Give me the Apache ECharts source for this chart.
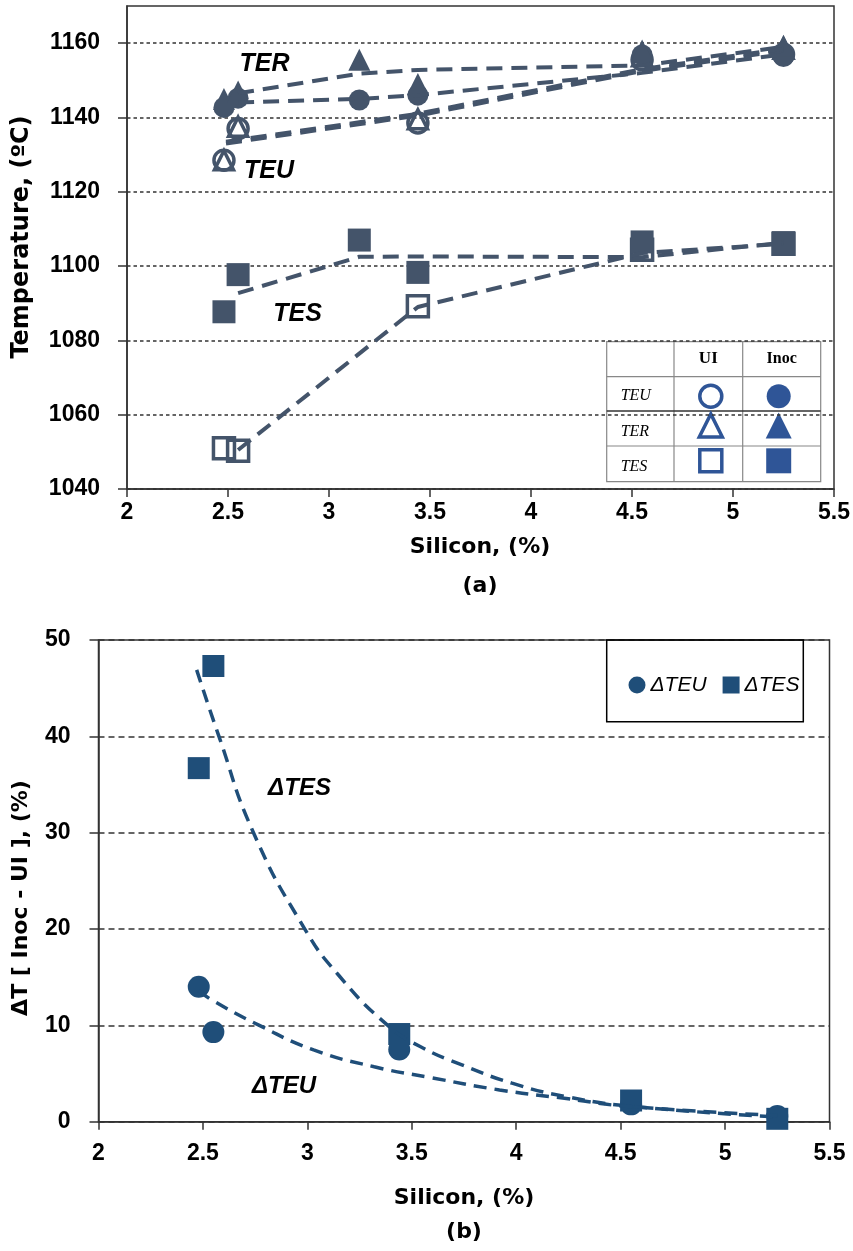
<!DOCTYPE html>
<html><head><meta charset="utf-8">
<script src="https://cdn.jsdelivr.net/npm/echarts@6/dist/echarts.min.js"></script>
<style>html,body{margin:0;padding:0;background:#fff}#c{width:853px;height:1251px}</style>
</head><body><div id="c"></div>
<script>
// ---------- (a) Temperatures ----------
const yTicksA = [1040, 1060, 1080, 1100, 1120, 1140, 1160];
const siUI = [2.48, 2.55, 3.44, 4.55, 5.25];
const siInoc = [2.48, 2.55, 3.15, 3.44, 4.55, 5.25];
const teuUI = [1128.5, 1137, 1138.5, 1155.5, 1157];
const terUI = [1128.5, 1137.5, 1139.5, 1156.5, 1158.5];
const tesUI = [1051, 1050.3, 1089.2, 1104.4, 1106];
const teuInoc = [1142.7, 1145.2, 1144.7, 1146, 1156.8, 1156.4];
const terInoc = [1145, 1147, 1155.5, 1149, 1158, 1159.3];
const tesInoc = [1087.7, 1097.7, 1107, 1098.3, 1106.5, 1106.3];
// dashed trend lines
const trendSiInoc = [2.55, 3.15, 3.44, 4.55, 5.25];
const teuInocTrend = [1144, 1145, 1146, 1152, 1157];
const terInocTrend = [1146.5, 1151.8, 1152.8, 1154, 1159];
const tesInocTrend = [1092.7, 1102.5, 1102.6, 1102.4, 1106.3];
const trendSiUI = [2.49, 3.44, 4.55, 5.25];
const teuUITrend = [1133, 1140.5, 1152.5, 1158];
const terUITrend = [1133.5, 1141, 1153, 1158.5];
const trendSiTesUI = [2.55, 3.44, 4.55, 5.25];
const tesUITrend = [1050.5, 1089, 1103.5, 1106];

// ---------- (b) Differences ----------
const yTicksB = [0, 10, 20, 30, 40, 50];
const siB = [2.48, 2.55, 3.44, 4.55, 5.25];
const dTEU = [14.0, 9.3, 7.5, 1.8, 0.6];
const dTES = [36.7, 47.3, 9.1, 2.2, 0.3];
const dTESCurveSi = [2.47, 2.575, 2.74, 2.985, 3.15, 3.385, 3.54, 3.74, 3.98, 4.24, 4.57, 5.25];
const dTESCurve   = [46.9, 40.1, 30.1, 20.1, 15.2, 10.0, 7.8, 5.9, 4.0, 2.6, 1.56, 0.5];
const dTEUCurveSi = [2.48, 2.545, 2.77, 3.03, 3.32, 3.585, 3.92, 4.24, 4.53, 5.25];
const dTEUCurve   = [13.6, 12.6, 10.0, 7.45, 5.7, 4.6, 3.3, 2.4, 1.6, 0.65];

const pairs = (xs, ys) => xs.map((x, i) => [x, ys[i]]);
const CA = '#44546A', CB = '#1F4E79', CT = '#2F5597';
const SANS = "'Liberation Sans', Arial, sans-serif";
const DJ = "'DejaVu Sans', sans-serif";

function openScatter(name, xs, ys, symbol, size) {
  return { name, type: 'scatter', xAxisIndex: 0, yAxisIndex: 0, data: pairs(xs, ys), symbol, symbolSize: size,
    itemStyle: { color: 'rgba(255,255,255,0)', borderColor: CA, borderWidth: 3.5, opacity: 1 }, z: 3 };
}
function fillScatter(name, xs, ys, symbol, size) {
  return { name, type: 'scatter', xAxisIndex: 0, yAxisIndex: 0, data: pairs(xs, ys), symbol, symbolSize: size,
    itemStyle: { color: CA, opacity: 1 }, z: 4 };
}
function trendA(xs, ys) {
  return { type: 'line', xAxisIndex: 0, yAxisIndex: 0, data: pairs(xs, ys), showSymbol: false, silent: true,
    lineStyle: { color: CA, width: 4, type: [16, 9] }, z: 5 };
}
function trendB(xs, ys) {
  return { type: 'line', xAxisIndex: 1, yAxisIndex: 1, data: pairs(xs, ys), showSymbol: false, silent: true, smooth: true,
    lineStyle: { color: CB, width: 3.5, type: [13, 8] }, z: 5 };
}

const axisCommon = {
  axisLine: { show: true, lineStyle: { color: '#333', width: 1.5 } },
  axisTick: { show: true, inside: false, length: 8, lineStyle: { color: '#333', width: 1.5 } },
};
const plain = v => String(v);

// legend table for (a)
const TX = 606.7, TY = 341.7, TW = 214, TH = 140;
const c2 = 710.8, c3 = 778.7;
const tableEls = [
  { type: 'rect', shape: { x: TX, y: TY, width: TW, height: TH }, style: { fill: '#fff', stroke: '#888', lineWidth: 1.2 } },
  { type: 'line', shape: { x1: 674, y1: TY, x2: 674, y2: TY + TH }, style: { stroke: '#888', lineWidth: 1.2 } },
  { type: 'line', shape: { x1: 742.7, y1: TY, x2: 742.7, y2: TY + TH }, style: { stroke: '#888', lineWidth: 1.2 } },
  { type: 'line', shape: { x1: TX, y1: 376.7, x2: TX + TW, y2: 376.7 }, style: { stroke: '#888', lineWidth: 1.2 } },
  { type: 'line', shape: { x1: TX, y1: 411, x2: TX + TW, y2: 411 }, style: { stroke: '#333', lineWidth: 1.5 } },
  { type: 'line', shape: { x1: TX, y1: 446, x2: TX + TW, y2: 446 }, style: { stroke: '#888', lineWidth: 1.2 } },
  { type: 'text', x: 708.3, y: 359, style: { text: 'UI', font: "bold 17px 'Liberation Serif', serif", fill: '#000', align: 'center', verticalAlign: 'middle' } },
  { type: 'text', x: 781.7, y: 359, style: { text: 'Inoc', font: "bold 16px 'Liberation Serif', serif", fill: '#000', align: 'center', verticalAlign: 'middle' } },
  { type: 'text', x: 620.7, y: 396, style: { text: 'TEU', font: "italic 16px 'Liberation Serif', serif", fill: '#000', align: 'left', verticalAlign: 'middle' } },
  { type: 'text', x: 620.7, y: 432, style: { text: 'TER', font: "italic 16px 'Liberation Serif', serif", fill: '#000', align: 'left', verticalAlign: 'middle' } },
  { type: 'text', x: 620.7, y: 466.5, style: { text: 'TES', font: "italic 16px 'Liberation Serif', serif", fill: '#000', align: 'left', verticalAlign: 'middle' } },
  { type: 'circle', shape: { cx: c2, cy: 396.2, r: 11 }, style: { fill: '#fff', stroke: CT, lineWidth: 3.5 } },
  { type: 'circle', shape: { cx: c3, cy: 396.2, r: 12 }, style: { fill: CT } },
  { type: 'polygon', shape: { points: [[c2, 414], [c2 - 11.5, 437], [c2 + 11.5, 437]] }, style: { fill: '#fff', stroke: CT, lineWidth: 3.5 } },
  { type: 'polygon', shape: { points: [[c3, 412.5], [c3 - 13, 438.5], [c3 + 13, 438.5]] }, style: { fill: CT } },
  { type: 'rect', shape: { x: c2 - 11, y: 449.8, width: 22, height: 22 }, style: { fill: '#fff', stroke: CT, lineWidth: 3.5 } },
  { type: 'rect', shape: { x: c3 - 12.5, y: 448.3, width: 25, height: 25 }, style: { fill: CT } },
];

const annot = (t, x, y, size) => ({ type: 'text', x, y, style: { text: t, font: `italic bold ${size}px ${SANS}`, fill: '#000', align: 'center', verticalAlign: 'middle' } });
const title = (t, x, y, size, rot) => ({ type: 'text', x, y, rotation: rot || 0, style: { text: t, font: `bold ${size}px ${DJ}`, fill: '#000', align: 'center', verticalAlign: 'middle' } });

const option = {
  animation: false,
  backgroundColor: '#fff',
  grid: [
    { left: 127, top: 6, width: 707, height: 483, show: true, borderColor: '#333', borderWidth: 1.5, backgroundColor: 'transparent' },
    { left: 98.5, top: 640, width: 731, height: 481.7, show: true, borderColor: '#333', borderWidth: 1.5, backgroundColor: 'transparent' },
  ],
  xAxis: [
    Object.assign({ type: 'value', gridIndex: 0, min: 2, max: 5.5, interval: 0.5, splitLine: { show: false },
      axisLabel: { margin: 12, color: '#000', fontFamily: SANS, fontWeight: 'bold', fontSize: 23, formatter: plain } }, axisCommon),
    Object.assign({ type: 'value', gridIndex: 1, min: 2, max: 5.5, interval: 0.5, splitLine: { show: false },
      axisLabel: { margin: 20, color: '#000', fontFamily: SANS, fontWeight: 'bold', fontSize: 23, formatter: plain } }, axisCommon),
  ],
  yAxis: [
    { type: 'value', gridIndex: 0, min: 1040, max: 1170, interval: 20,
      axisLine: axisCommon.axisLine,
      axisTick: Object.assign({}, axisCommon.axisTick, { length: 9, customValues: yTicksA }),
      axisLabel: { margin: 27, color: '#000', fontFamily: SANS, fontWeight: 'bold', fontSize: 23, customValues: yTicksA, formatter: plain },
      splitLine: { show: true, lineStyle: { color: '#333', width: 1.5, type: [3.5, 3] } } },
    { type: 'value', gridIndex: 1, min: 0, max: 50, interval: 10,
      axisLine: axisCommon.axisLine,
      axisTick: Object.assign({}, axisCommon.axisTick, { length: 9, customValues: yTicksB }),
      axisLabel: { margin: 28, color: '#000', fontFamily: SANS, fontWeight: 'bold', fontSize: 23, customValues: yTicksB, formatter: plain },
      splitLine: { show: true, lineStyle: { color: '#333', width: 1.5, type: [6, 4] } } },
  ],
  legend: {
    data: ['ΔTEU', 'ΔTES'], left: 623.5, top: 669.5, itemWidth: 17, itemHeight: 17, itemGap: 16,
    textStyle: { fontFamily: SANS, fontStyle: 'italic', fontSize: 21, color: '#000', padding: [0, 0, 0, 0] },
    selectedMode: false
  },
  series: [
    openScatter('TEU UI', siUI, teuUI, 'circle', 20),
    openScatter('TER UI', siUI, terUI, 'triangle', 19),
    openScatter('TES UI', siUI, tesUI, 'rect', 21),
    fillScatter('TEU Inoc', siInoc, teuInoc, 'circle', 21),
    fillScatter('TER Inoc', siInoc, terInoc, 'triangle', 22),
    fillScatter('TES Inoc', siInoc, tesInoc, 'rect', 23),
    trendA(trendSiInoc, teuInocTrend),
    trendA(trendSiInoc, terInocTrend),
    trendA(trendSiInoc, tesInocTrend),
    trendA(trendSiUI, teuUITrend),
    trendA(trendSiUI, terUITrend),
    trendA(trendSiTesUI, tesUITrend),
    { name: 'ΔTEU', type: 'scatter', xAxisIndex: 1, yAxisIndex: 1, data: pairs(siB, dTEU), symbol: 'circle', symbolSize: 22, itemStyle: { color: CB, opacity: 1 }, z: 4 },
    { name: 'ΔTES', type: 'scatter', xAxisIndex: 1, yAxisIndex: 1, data: pairs(siB, dTES), symbol: 'rect', symbolSize: 22, itemStyle: { color: CB, opacity: 1 }, z: 4 },
    trendB(dTESCurveSi, dTESCurve),
    trendB(dTEUCurveSi, dTEUCurve),
  ],
  graphic: [
    { type: 'group', z: 100, children: tableEls },
    { type: 'rect', z: 90, shape: { x: 606.7, y: 640, width: 196.6, height: 81.7 }, style: { fill: 'rgba(0,0,0,0)', stroke: '#000', lineWidth: 1.5 } },
    annot('TER', 264.5, 64, 25),
    annot('TEU', 269, 171, 25),
    annot('TES', 297.5, 314, 25),
    annot('ΔTES', 299.5, 788, 24),
    annot('ΔTEU', 284, 1086, 24),
    title('Temperature, (ºC)', 21.7, 237, 24, Math.PI / 2),
    title('Silicon, (%)', 480, 547, 22),
    title('(a)', 480, 586, 22),
    title('ΔT [ Inoc - UI ], (%)', 21, 898, 22, Math.PI / 2),
    title('Silicon, (%)', 464, 1198, 22),
    title('(b)', 464, 1232, 22),
  ],
};
const chart = echarts.init(document.getElementById('c'), null, { renderer: 'canvas' });
chart.setOption(option);
</script></body></html>
